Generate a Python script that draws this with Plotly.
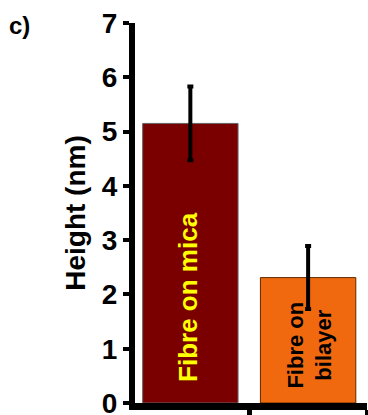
import plotly.graph_objects as go

categories = ["Fibre on mica", "Fibre on bilayer"]
bar_labels = ["Fibre on mica", "Fibre on<br>bilayer"]
heights = [5.15, 2.31]
errors = [0.68, 0.58]
y_ticks = [0, 1, 2, 3, 4, 5, 6, 7]

FONT = "Liberation Sans, Arial, sans-serif"

fig = go.Figure()
fig.add_trace(go.Bar(
    x=categories,
    y=heights,
    width=0.81,
    marker=dict(color=["#7a0000", "#f0690f"],
                line=dict(color=["#666666", "#5a2a00"], width=1)),
    error_y=dict(type="data", array=errors, visible=True,
                 color="black", thickness=4, width=3),
    showlegend=False,
    hoverinfo="skip",
))

label_colors = ["#ffff00", "black"]
label_sizes = [26, 22]
label_y = [1.96, 1.06]
label_dx = [-3, 2]
for cat, lab, col, sz, ly, dx in zip(categories, bar_labels, label_colors, label_sizes, label_y, label_dx):
    fig.add_annotation(x=cat, y=ly, text=lab, textangle=-90, showarrow=False,
                       xshift=dx,
                       font=dict(family=FONT, size=sz, color=col, weight="bold"))

fig.add_annotation(xref="paper", yref="paper", x=-0.55, y=1.035,
                   xanchor="left", yanchor="top", text="c)", showarrow=False,
                   font=dict(family=FONT, size=24, color="black", weight="bold"))

fig.update_layout(
    width=368, height=415,
    margin=dict(l=135, r=1, t=23, b=12, autoexpand=False),
    paper_bgcolor="white", plot_bgcolor="white",
    xaxis=dict(type="category", range=[-0.47, 1.5], showticklabels=False,
               showline=True, linecolor="black", linewidth=7,
               ticks="outside", tickson="boundaries", ticklen=6, tickwidth=5,
               tickcolor="black", showgrid=False, zeroline=False),
    yaxis=dict(range=[0, 7], tickvals=y_ticks, showline=True, linecolor="black",
               linewidth=6, ticks="outside", ticklen=6, tickwidth=4,
               tickcolor="black", showgrid=False, zeroline=False,
               ticklabeloverflow="allow", automargin=False,
               tickfont=dict(family=FONT, size=28, color="black", weight="bold"),
               title=dict(text="Height (nm)", standoff=10,
                          font=dict(family=FONT, size=28, color="black", weight="bold"))),
)

fig.write_html("out.html", config={"displayModeBar": False, "staticPlot": True},
               post_script="document.body.style.margin='0px';document.body.style.overflow='hidden';")
